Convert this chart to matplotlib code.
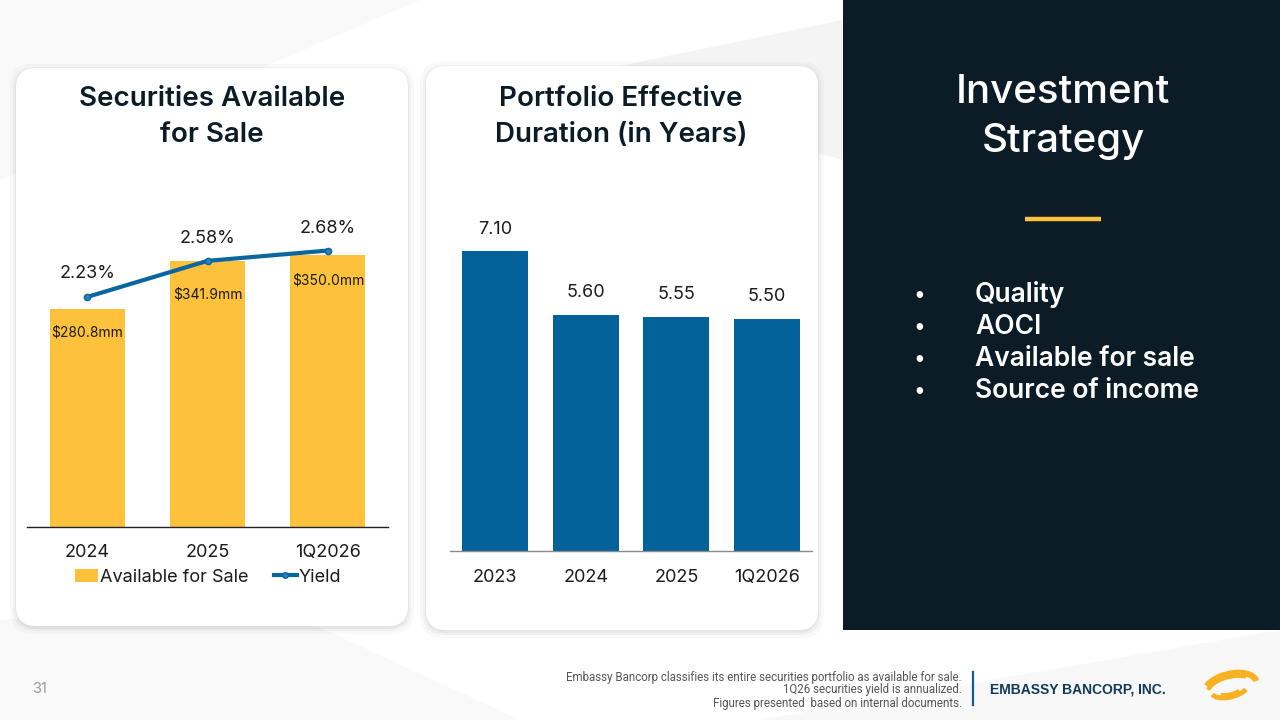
import matplotlib.pyplot as plt
from matplotlib.patches import FancyBboxPatch, Rectangle, Polygon, Arc
from matplotlib.lines import Line2D
from matplotlib.patches import Patch

plt.rcParams['font.family'] = ['Inter', 'DejaVu Sans']

# data
afs_years = ['2024', '2025', '1Q2026']
afs_values = [280.8, 341.9, 350.0]
afs_labels = ['$280.8mm', '$341.9mm', '$350.0mm']
yield_values = [2.23, 2.58, 2.68]

dur_years = ['2023', '2024', '2025', '1Q2026']
dur_values = [7.10, 5.60, 5.55, 5.50]

bullets = ['Quality', 'AOCI', 'Available for sale', 'Source of income']
notes = ['Embassy Bancorp classifies its entire securities portfolio as available for sale.',
         '1Q26 securities yield is annualized.',
         'Figures presented  based on internal documents.']

yellow = '#FDC13C'
blue = '#03629A'
navy = '#0B1C26'
ink = '#1B1B1B'

W, H = 1280, 720
fig = plt.figure(figsize=(12.8, 7.2), dpi=100)
fig.patch.set_facecolor('white')

# background layer in pixel coords
bg = fig.add_axes([0, 0, 1, 1], zorder=0)
bg.set_xlim(0, W)
bg.set_ylim(H, 0)
bg.axis('off')

# faint swirl shapes
bg.add_patch(Polygon([[0, 0], [420, 0], [0, 180]], closed=True, fc='#f9f9f9', ec='none'))
bg.add_patch(Polygon([[600, 70], [843, 20], [843, 160], [700, 120]], closed=True, fc='#f4f4f4', ec='none'))
bg.add_patch(Polygon([[0, 620], [260, 600], [520, 720], [0, 720]], closed=True, fc='#f9f9f9', ec='none'))
bg.add_patch(Polygon([[760, 720], [1280, 630], [1280, 720]], closed=True, fc='#f8f8f8', ec='none'))


def card(x0, y0, x1, y1):
    for d, a in [(8, 0.025), (5, 0.035), (3, 0.045)]:
        bg.add_patch(FancyBboxPatch((x0 - d + 2, y0 - d + 4), x1 - x0 + 2 * d - 4, y1 - y0 + 2 * d - 4,
                                    boxstyle='round,pad=0,rounding_size=22', fc='black', ec='none', alpha=a))
    bg.add_patch(FancyBboxPatch((x0, y0), x1 - x0, y1 - y0,
                                boxstyle='round,pad=0,rounding_size=20', fc='white', ec='none'))


card(16, 68, 408, 626)
card(426, 66, 818, 630)

# right dark panel
bg.add_patch(Rectangle((843, 0), W - 843, 630, fc=navy, ec='none'))
bg.text(1063, 117, 'Investment\nStrategy', color='white', fontsize=29, ha='center', va='center',
        linespacing=1.42, fontweight='medium')
bg.plot([1025, 1101], [219, 219], color=yellow, lw=3.2, solid_capstyle='butt')
for i, b in enumerate(bullets):
    yy = 295 + i * 32
    bg.text(919, yy, '•', color='white', fontsize=15, ha='center', va='center')
    bg.text(975, yy, b, color='white', fontsize=19, ha='left', va='center', fontweight='semibold')

# chart titles
bg.text(212, 117, 'Securities Available\nfor Sale', color=navy, fontsize=20, ha='center', va='center',
        fontweight='semibold', linespacing=1.5)
bg.text(621, 117, 'Portfolio Effective\nDuration (in Years)', color=navy, fontsize=20, ha='center',
        va='center', fontweight='semibold', linespacing=1.5)

# footer
bg.text(40, 689, '31', color='#9a9a9a', fontsize=10.5, ha='center', va='center')
for i, n in enumerate(notes):
    bg.text(962, 677 + i * 13, n, color='#555555', fontsize=8.3, ha='right', va='center',
            family=['Liberation Sans Narrow', 'Roboto', 'DejaVu Sans'])
bg.plot([973, 973], [672, 705], color='#1a5a8a', lw=1.6)
bg.text(990, 689, 'EMBASSY BANCORP, INC.', color='#0f3a5e', fontsize=10, ha='left', va='center',
        fontweight='bold', family=['Liberation Sans', 'DejaVu Sans'])
# logo swirl
for (w, h, t1, t2, lw) in [(54, 28, 200, 360, 4.5), (46, 22, 190, 340, 3.0), (38, 18, 20, 175, 3.5),
                           (28, 12, 30, 160, 2.5)]:
    bg.add_patch(Arc((1230, 688), w, h, angle=-15, theta1=t1, theta2=t2, color='#F6B222', lw=lw))

# left chart
ax1 = fig.add_axes([27 / W, 1 - 527 / H, 361 / W, 327 / H], zorder=2)
ax1.patch.set_alpha(0)
x1 = list(range(len(afs_years)))
ax1.bar(x1, afs_values, width=0.625, color=yellow, zorder=2)
ax1.set_xlim(-0.5, 2.5)
ax1.set_ylim(0, 421)
ax1.set_xticks(x1)
ax1.set_xticklabels(afs_years, fontsize=13, color=ink)
ax1.tick_params(axis='x', length=0, pad=12)
ax1.set_yticks([])
for s in ['top', 'right', 'left']:
    ax1.spines[s].set_visible(False)
ax1.spines['bottom'].set_color('#222222')
ax1.spines['bottom'].set_linewidth(1.0)
label_drop = [17, 24, 18]
for xi, v, lab, d in zip(x1, afs_values, afs_labels, label_drop):
    ax1.annotate(lab, (xi, v), xytext=(0, -d), textcoords='offset points', ha='center', va='center',
                 fontsize=10, color=ink)

ax1b = ax1.twinx()
ax1b.set_ylim(0, 3.17)
ax1b.plot(x1, yield_values, color='#0A66A0', lw=3, marker='o', markersize=4.5,
          markerfacecolor='#2F80B8', markeredgecolor='#0A66A0', zorder=3)
ax1b.axis('off')
pct_rise = [17, 16, 16]
for xi, v, d in zip(x1, yield_values, pct_rise):
    ax1b.annotate(f'{v:.2f}%', (xi, v), xytext=(0, d), textcoords='offset points', ha='center',
                  va='center', fontsize=13, color=ink)

handles = [Patch(facecolor=yellow, edgecolor='none'),
           Line2D([0], [0], color='#0A66A0', lw=3, marker='o', markersize=4,
                  markerfacecolor='#2F80B8')]
fig.legend(handles, ['Available for Sale', 'Yield'], loc='center', bbox_to_anchor=(208 / W, 1 - 577 / H),
           ncol=2, frameon=False, fontsize=13, handlelength=1.3, handletextpad=0.1, columnspacing=1.4,
           labelcolor=ink)

# middle chart
ax2 = fig.add_axes([450 / W, 1 - 551 / H, 362 / W, 351 / H], zorder=2)
ax2.patch.set_alpha(0)
x2 = list(range(len(dur_years)))
ax2.bar(x2, dur_values, width=0.73, color=blue, zorder=2)
ax2.set_xlim(-0.5, 3.5)
ax2.set_ylim(0, 8.32)
ax2.set_xticks(x2)
ax2.set_xticklabels(dur_years, fontsize=13, color=ink)
ax2.tick_params(axis='x', length=0, pad=13)
ax2.set_yticks([])
for s in ['top', 'right', 'left']:
    ax2.spines[s].set_visible(False)
ax2.spines['bottom'].set_color('#8a8a8a')
ax2.spines['bottom'].set_linewidth(1.0)
for xi, v in zip(x2, dur_values):
    ax2.annotate(f'{v:.2f}', (xi, v), xytext=(0, 16), textcoords='offset points', ha='center',
                 va='center', fontsize=13, color=ink)

fig.savefig('out.png', dpi=100)
